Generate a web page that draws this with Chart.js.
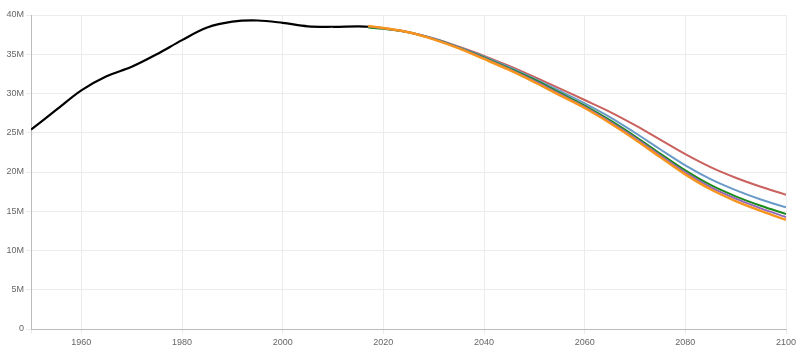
<!DOCTYPE html>
<html>
<head>
<meta charset="utf-8">
<script src="https://cdn.jsdelivr.net/npm/chart.js@4"></script>
<style>
  html, body { margin: 0; padding: 0; background: #fff; }
  #wrap { width: 800px; height: 355px; }
</style>
</head>
<body>
<div id="wrap"><canvas id="chart" width="800" height="355"></canvas></div>
<script>
// historical estimates (millions)
const histYears = [1950, 1955, 1960, 1965, 1970, 1975, 1980, 1985, 1990, 1995, 2000, 2005, 2010, 2015, 2017];
const histValues = [25.4, 27.9, 30.4, 32.2, 33.4, 35.0, 36.8, 38.4, 39.15, 39.3, 39.0, 38.56, 38.5, 38.55, 38.5];

// projection variants (millions)
const projYears  = [2017, 2020, 2025, 2030, 2035, 2040, 2045, 2050, 2055, 2060, 2065, 2070, 2075, 2080, 2085, 2090, 2095, 2100];
const projRed    = [38.5, 38.3, 37.8, 37.0, 35.95, 34.8, 33.5, 32.1, 30.65, 29.17, 27.67, 25.97, 24.12, 22.27, 20.62, 19.27, 18.12, 17.1];
const projBlue   = [38.5, 38.3, 37.8, 37.0, 35.9, 34.7, 33.35, 31.9, 30.35, 28.75, 27.0, 25.0, 22.9, 20.85, 19.1, 17.7, 16.5, 15.5];
const projGreen  = [38.4, 38.25, 37.8, 36.95, 35.85, 34.6, 33.2, 31.75, 30.1, 28.45, 26.6, 24.55, 22.35, 20.2, 18.35, 16.9, 15.7, 14.65];
const projPurple = [38.55, 38.3, 37.8, 36.95, 35.8, 34.5, 33.1, 31.6, 29.95, 28.3, 26.42, 24.35, 22.12, 19.95, 18.07, 16.6, 15.37, 14.25];
const projOrange = [38.6, 38.35, 37.8, 36.9, 35.75, 34.4, 33.0, 31.45, 29.8, 28.15, 26.25, 24.15, 21.9, 19.7, 17.8, 16.3, 15.05, 13.9];

const yTicks = [0, 5, 10, 15, 20, 25, 30, 35, 40];

const toPoints = (xs, ys) => xs.map((x, i) => ({ x: x, y: ys[i] }));

const line = (label, xs, ys, color, width) => ({
  label: label,
  data: toPoints(xs, ys),
  borderColor: color,
  backgroundColor: color,
  borderWidth: width,
  pointRadius: 0,
  fill: false,
  tension: 0.35,
});

Chart.defaults.font.family = "'Liberation Sans', Arial, sans-serif";
Chart.defaults.font.size = 9;
Chart.defaults.color = "#666";

new Chart(document.getElementById("chart").getContext("2d"), {
  type: "line",
  data: {
    datasets: [
      // drawn in reverse order so orange ends up on top
      line("Orange", projYears, projOrange, "#f7941d", 2.5),
      line("Purple", projYears, projPurple, "#9467bd", 2),
      line("Green", projYears, projGreen, "#1a8a1a", 2),
      line("Blue", projYears, projBlue, "#6a9bc8", 2),
      line("Red", projYears, projRed, "#c9615e", 2),
      line("Estimates", histYears, histValues, "#000000", 2.2),
    ],
  },
  options: {
    responsive: false,
    animation: false,
    layout: { padding: { top: 15, right: 14, left: 0, bottom: 0 } },
    plugins: {
      legend: { display: false },
      tooltip: { enabled: false },
    },
    scales: {
      x: {
        type: "linear",
        min: 1950,
        max: 2100,
        grid: { color: "#ececec", tickLength: 5 },
        border: { color: "#bbb" },
        ticks: {
          stepSize: 20,
          maxRotation: 0,
          padding: 3,
          callback: (v) => (v % 20 === 0 ? String(v) : ""),
        },
        afterFit: (s) => { s.height = 26; },
      },
      y: {
        min: 0,
        max: 40,
        grid: { color: "#ececec", tickLength: 5 },
        border: { color: "#bbb" },
        afterBuildTicks: (s) => { s.ticks = yTicks.map((v) => ({ value: v })); },
        ticks: {
          padding: 2,
          callback: (v) => (v === 0 ? "0" : v + "M"),
        },
        afterFit: (s) => { s.width = 31; },
      },
    },
  },
});
</script>
</body>
</html>
